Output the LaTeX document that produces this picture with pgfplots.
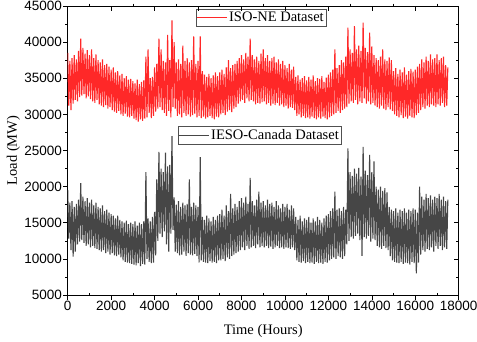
\documentclass[border=0pt]{standalone}
\usepackage{pgfplots}
\pgfplotsset{compat=1.18}
\usepackage{pgfplotstable}
\usepackage{fontspec}
\setmainfont{Liberation Serif}
\newfontfamily\arialf{Liberation Sans}
\definecolor{isored}{RGB}{255,40,40}
\definecolor{iesogray}{RGB}{70,70,70}
\definecolor{legframe}{RGB}{80,80,80}

% ISO-NE load, one value every 50 hours
\pgfplotstableread[row sep=\\]{
y\\
38500\\ 31200\\ 37400\\ 30600\\ 37800\\ 31500\\ 38200\\ 32000\\ 37600\\ 31800\\ 38800\\ 32400\\ 40500\\ 32600\\ 39200\\ 32800\\ 38400\\ 32200\\ 38900\\ 32500\\
38200\\ 32100\\ 39000\\ 31800\\ 37800\\ 31600\\ 38300\\ 32000\\ 37500\\ 31400\\ 37200\\ 31200\\ 37600\\ 31000\\ 36800\\ 31300\\ 37000\\ 30800\\ 36600\\ 31000\\
36200\\ 30600\\ 36500\\ 30400\\ 35800\\ 30200\\ 36000\\ 30500\\ 35400\\ 30000\\ 35600\\ 29800\\ 35000\\ 30100\\ 35300\\ 29700\\ 34800\\ 29600\\ 34900\\ 29800\\
34600\\ 29400\\ 34300\\ 29200\\ 34800\\ 29000\\ 34200\\ 29300\\ 34500\\ 29100\\ 34700\\ 29400\\ 38000\\ 29600\\ 39000\\ 30200\\ 35000\\ 29500\\ 35200\\ 29800\\
36500\\ 30400\\ 37000\\ 30800\\ 40500\\ 31000\\ 39000\\ 30600\\ 37400\\ 30200\\ 37200\\ 29800\\ 41000\\ 30500\\ 37500\\ 29600\\ 43000\\ 31000\\ 40000\\ 30800\\
37200\\ 29800\\ 37600\\ 30000\\ 37000\\ 29600\\ 39500\\ 30200\\ 37400\\ 29800\\ 37800\\ 30000\\ 37200\\ 29700\\ 37500\\ 29900\\ 40800\\ 30100\\ 37000\\ 29600\\
37400\\ 29800\\ 40800\\ 29500\\ 36000\\ 29700\\ 35500\\ 29400\\ 35200\\ 29600\\ 35600\\ 29800\\ 35000\\ 29500\\ 35400\\ 29300\\ 35800\\ 29700\\ 35300\\ 29600\\
35800\\ 30000\\ 36200\\ 30200\\ 35600\\ 29900\\ 36500\\ 30400\\ 37500\\ 30600\\ 36400\\ 30300\\ 36800\\ 30800\\ 37000\\ 31000\\ 37400\\ 31500\\ 37800\\ 31800\\
38200\\ 32000\\ 37600\\ 31600\\ 38500\\ 32200\\ 38000\\ 31800\\ 40500\\ 32000\\ 38200\\ 31800\\ 37600\\ 31400\\ 38000\\ 31600\\ 37400\\ 31500\\ 38400\\ 31700\\
39000\\ 31800\\ 37800\\ 31400\\ 38200\\ 31600\\ 37400\\ 31200\\ 37800\\ 31500\\ 38000\\ 31300\\ 37200\\ 31600\\ 37600\\ 31200\\ 37000\\ 31400\\ 37400\\ 31000\\
36800\\ 31200\\ 36400\\ 30800\\ 37000\\ 31000\\ 36200\\ 30900\\ 36600\\ 30600\\ 35200\\ 29800\\ 35400\\ 30000\\ 34800\\ 29600\\ 35000\\ 29800\\ 35300\\ 29500\\
34700\\ 29600\\ 35200\\ 29400\\ 34800\\ 29700\\ 35400\\ 29500\\ 34600\\ 29300\\ 35000\\ 29600\\ 34900\\ 29400\\ 35300\\ 29700\\ 34500\\ 29500\\ 35100\\ 29300\\
35500\\ 29600\\ 35800\\ 29800\\ 36200\\ 30000\\ 39000\\ 30200\\ 36400\\ 30500\\ 36800\\ 30200\\ 37500\\ 30600\\ 37200\\ 30800\\ 38000\\ 31000\\ 42000\\ 31500\\
39000\\ 31800\\ 38500\\ 31600\\ 42200\\ 32000\\ 39000\\ 31400\\ 39500\\ 31800\\ 38800\\ 31600\\ 42700\\ 32200\\ 39200\\ 31500\\ 38600\\ 31800\\ 41300\\ 31400\\
39400\\ 31600\\ 38200\\ 31200\\ 37800\\ 31000\\ 37500\\ 30800\\ 38000\\ 31200\\ 39000\\ 30800\\ 37600\\ 30600\\ 37400\\ 31000\\ 37900\\ 30700\\ 37500\\ 30500\\
36000\\ 30000\\ 36400\\ 29800\\ 35600\\ 29600\\ 36200\\ 29900\\ 35800\\ 29500\\ 36500\\ 29700\\ 35500\\ 29400\\ 36000\\ 29800\\ 36300\\ 29600\\ 35900\\ 29500\\
36200\\ 29900\\ 36600\\ 30200\\ 37000\\ 30600\\ 37600\\ 31000\\ 37200\\ 30800\\ 38000\\ 31200\\ 37400\\ 31000\\ 38300\\ 31400\\ 37600\\ 31200\\ 37800\\ 31000\\
38300\\ 31400\\ 37500\\ 31200\\ 37800\\ 31600\\ 38000\\ 31000\\ 36800\\ 31200\\ 36500\\
}\isone

% IESO-Canada load, one value every 50 hours
\pgfplotstableread[row sep=\\]{
y\\
19500\\ 12800\\ 17800\\ 11200\\ 18000\\ 10300\\ 17200\\ 11000\\ 17600\\ 12000\\ 18200\\ 12400\\ 20500\\ 12600\\ 18600\\ 12200\\ 18000\\ 11800\\ 18400\\ 12000\\
17800\\ 11600\\ 18200\\ 11800\\ 17400\\ 11500\\ 17800\\ 11400\\ 17200\\ 11200\\ 17000\\ 11000\\ 17400\\ 11200\\ 16600\\ 10800\\ 16800\\ 11000\\ 16400\\ 10600\\
16200\\ 10800\\ 16000\\ 10500\\ 15600\\ 10400\\ 16000\\ 10600\\ 15400\\ 10200\\ 15200\\ 9800\\ 15000\\ 9600\\ 15300\\ 9500\\ 14800\\ 9400\\ 15000\\ 9300\\
14800\\ 9200\\ 15200\\ 9100\\ 14600\\ 9400\\ 15000\\ 9000\\ 14800\\ 9300\\ 15200\\ 9200\\ 22000\\ 10000\\ 15600\\ 9600\\ 15200\\ 9400\\ 15800\\ 9500\\
16500\\ 10500\\ 21000\\ 12500\\ 24800\\ 13500\\ 22500\\ 13000\\ 22000\\ 13800\\ 24700\\ 12000\\ 22800\\ 11000\\ 23000\\ 13500\\ 27000\\ 14000\\ 18500\\ 11000\\
17500\\ 10800\\ 18000\\ 10500\\ 17200\\ 10600\\ 17800\\ 11000\\ 17400\\ 10400\\ 17600\\ 10800\\ 21000\\ 10600\\ 17200\\ 10500\\ 17800\\ 10700\\ 17400\\ 10400\\
17200\\ 9500\\ 24100\\ 9800\\ 15800\\ 9600\\ 15400\\ 9500\\ 16000\\ 9400\\ 15600\\ 9700\\ 15200\\ 9500\\ 15800\\ 9600\\ 15400\\ 9400\\ 16000\\ 9800\\
16200\\ 9800\\ 16800\\ 10000\\ 16000\\ 9700\\ 17400\\ 10200\\ 16600\\ 10000\\ 19000\\ 10400\\ 17000\\ 10600\\ 17600\\ 10800\\ 17200\\ 11000\\ 18000\\ 11200\\
18400\\ 11600\\ 17800\\ 11200\\ 18600\\ 11800\\ 17600\\ 11400\\ 21200\\ 11600\\ 18000\\ 11800\\ 17400\\ 11500\\ 18200\\ 12000\\ 19300\\ 11600\\ 17800\\ 11800\\
18000\\ 11600\\ 17400\\ 11800\\ 18200\\ 11500\\ 17600\\ 11700\\ 17800\\ 11400\\ 17200\\ 11600\\ 18000\\ 11800\\ 17400\\ 11500\\ 17000\\ 11600\\ 17600\\ 11400\\
17200\\ 11600\\ 17600\\ 11500\\ 16800\\ 11400\\ 17400\\ 11600\\ 17000\\ 11200\\ 15800\\ 9800\\ 15400\\ 9600\\ 16000\\ 9500\\ 15200\\ 9700\\ 15600\\ 9400\\
15400\\ 9600\\ 15800\\ 9400\\ 15000\\ 9500\\ 15600\\ 9300\\ 15200\\ 9600\\ 15800\\ 9400\\ 15400\\ 9500\\ 15000\\ 9300\\ 15600\\ 9600\\ 16000\\ 9500\\
16200\\ 9800\\ 16600\\ 10000\\ 17000\\ 10200\\ 19300\\ 10000\\ 16800\\ 10400\\ 17000\\ 10200\\ 16600\\ 10000\\ 17200\\ 10400\\ 16800\\ 12000\\ 25300\\ 12500\\
22000\\ 13000\\ 21500\\ 12800\\ 22500\\ 13200\\ 21800\\ 13500\\ 22600\\ 12600\\ 21400\\ 10400\\ 25500\\ 13000\\ 22200\\ 12800\\ 21600\\ 13200\\ 24400\\ 12400\\
22000\\ 12800\\ 23500\\ 12600\\ 20000\\ 11800\\ 19600\\ 11600\\ 20000\\ 11400\\ 19400\\ 11800\\ 19800\\ 11500\\ 19200\\ 11200\\ 17200\\ 10400\\ 16800\\ 9800\\
16600\\ 9600\\ 17000\\ 9500\\ 16400\\ 9400\\ 16800\\ 9600\\ 16600\\ 9300\\ 17000\\ 9500\\ 16400\\ 9400\\ 16800\\ 9200\\ 16600\\ 9600\\ 17000\\ 9400\\
16800\\ 8000\\ 16400\\ 9500\\ 20000\\ 10600\\ 18600\\ 11200\\ 18200\\ 11000\\ 19000\\ 11400\\ 18400\\ 11200\\ 18800\\ 11600\\ 18200\\ 11000\\ 18600\\ 11800\\
18400\\ 11400\\ 19000\\ 11800\\ 18200\\ 11200\\ 18600\\ 11600\\ 18000\\ 11400\\ 18200\\
}\istwo

\pgfplotsset{
  base/.style={
    scale only axis, width=391pt, height=289pt,
    xmin=0, xmax=18000, ymin=5000, ymax=45000,
    axis line style={line width=0.7pt, black},
    every tick/.style={black, line width=0.6pt},
    scaled ticks=false,
    /pgf/number format/1000 sep={},
    /pgf/number format/assume math mode=true,
    ticklabel style={font=\arialf\fontsize{13.5}{15}\selectfont, inner sep=1pt},
  },
  legbox/.style={
    draw=legframe, line width=0.6pt, fill=white,
    font=\fontsize{14.5}{16}\selectfont,
    inner xsep=1pt, inner ysep=1.5pt,
    nodes={inner sep=1.5pt},
    legend cell align=left,
  },
}

\begin{document}
\begin{tikzpicture}
% main axis: data (ISO-NE), labels, left/bottom major ticks
\begin{axis}[base,
  axis x line*=bottom, axis y line*=left,
  tick align=outside, major tick length=4.5pt, minor tick length=2.5pt,
  xtick={0,2000,...,18000}, ytick={5000,10000,...,45000},
  minor y tick num=1,
  xlabel={Time (Hours)}, ylabel={Load (MW)},
  label style={font=\fontsize{14.5}{16}\selectfont},
  xlabel style={at={(axis description cs:0.5,-0.1384)}, anchor=base},
  ylabel style={at={(axis description cs:-0.1297,0.5)}, anchor=base, rotate=0},
  legend style={legbox, at={(axis description cs:0.327,0.9896)}, anchor=north west},
  legend image code/.code={\draw[isored, line width=0.8pt] (0pt,0pt) -- (30pt,0pt);},
]
\addplot[isored, line width=1.1pt, line join=bevel, mark=none] table[x expr=\coordindex*50, y=y]{\isone};
\addlegendentry{ISO-NE Dataset}
\end{axis}
% top/right mirrored major ticks pointing inwards
\begin{axis}[base,
  axis x line*=top, axis y line*=right,
  tick align=inside, major tick length=4.5pt, minor tick length=2.5pt,
  xtick={0,2000,...,18000}, ytick={5000,10000,...,45000},
  minor y tick num=1,
  xticklabels={}, yticklabels={},
]
\end{axis}
% top minor ticks pointing outwards
\begin{axis}[base,
  axis x line*=top, axis y line=none,
  tick align=outside, major tick length=2.5pt,
  xtick={1000,3000,...,17000}, ytick=\empty,
  xticklabels={},
]
\end{axis}
% bottom minor ticks pointing inwards, IESO-Canada series with its own legend
\begin{axis}[base,
  axis x line*=bottom, axis y line=none,
  tick align=inside, major tick length=2.5pt,
  xtick={1000,3000,...,17000}, ytick=\empty,
  xticklabels={},
  legend style={legbox, at={(axis description cs:0.281,0.5848)}, anchor=north west},
  legend image code/.code={\draw[iesogray, line width=0.8pt] (0pt,0pt) -- (30pt,0pt);},
]
\addplot[iesogray, line width=1.1pt, line join=bevel, mark=none] table[x expr=\coordindex*50, y=y]{\istwo};
\addlegendentry{IESO-Canada Dataset}
\end{axis}
\pgfresetboundingbox
\path[use as bounding box] (-67.7pt,-46pt) rectangle (409.3pt,295pt);
\end{tikzpicture}
\end{document}
